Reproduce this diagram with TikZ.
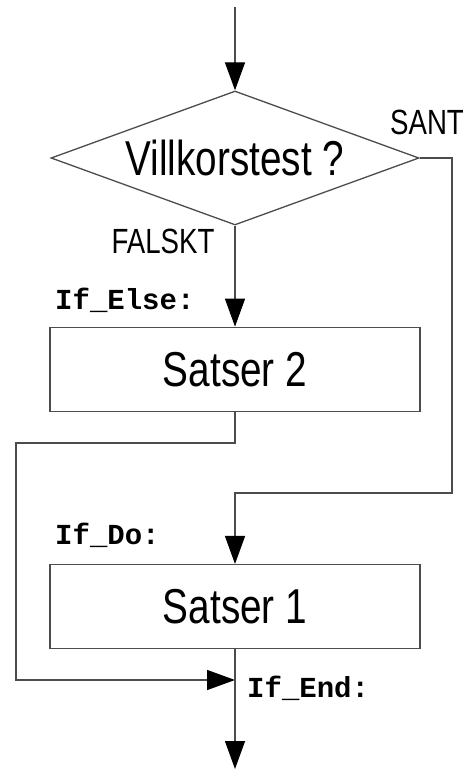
\documentclass[tikz,border=0pt]{standalone}
\usepackage{fontspec}
\setmainfont{Liberation Sans}[FakeStretch=0.79]
\setmonofont{Liberation Mono}
\usepackage{tikz}
\usetikzlibrary{positioning, arrows.meta, shapes.geometric}

\begin{document}
\begin{tikzpicture}
        [
        x=1pt, y=-1pt,
        line/.style = {draw=black!70, line width=1.3pt},
        flow/.style = {line, -{Triangle[length=28pt, width=20pt, black]}},
        test/.style = {line, diamond, aspect=2.75, inner sep=0pt,
                       minimum width=368pt, minimum height=134pt,
                       font=\fontsize{49}{55}\selectfont},
        stmt/.style = {line, rectangle, inner sep=0pt,
                       minimum width=370pt, minimum height=84pt,
                       font=\fontsize{49}{55}\selectfont},
        answer/.style = {font=\fontsize{35}{40}\selectfont},
        lbl/.style = {anchor=west, inner sep=0pt, font=\fontsize{29}{33}\selectfont\ttfamily\bfseries}
        ]
    \useasboundingbox (0,0) rectangle (474,770);

    \node[test] (cond) at (235,158) {Villkorstest ?};
    \node[stmt, below=101pt of cond] (s2) {Satser 2};
    \node[stmt, below=152pt of s2] (s1) {Satser 1};

    \coordinate (start) at (235,7);
    \coordinate (rjoin) at (452,493);
    \coordinate (ljoin) at (16,443);
    \coordinate (ifend) at (235,680);
    \coordinate (stop) at (235,769);

    \node[answer] (sant) at (427,122) {SANT};
    \node[answer] (falskt) at (163,241) {FALSKT};
    \node[lbl] (ifelse) at (55,300) {If\_Else:};
    \node[lbl] (ifdo) at (55,535) {If\_Do:};
    \node[lbl] (ifendlbl) at (247,688) {If\_End:};

    \draw[flow] (start) -- (cond.north);
    \draw[flow] (cond.south) -- (s2.north);
    \draw[flow] (cond.east) -| (rjoin) -| (s1.north);
    \draw[flow] (s2.south) |- (ljoin) |- (ifend);
    \draw[flow] (s1.south) -- (stop);
    \end{tikzpicture}
\end{document}
